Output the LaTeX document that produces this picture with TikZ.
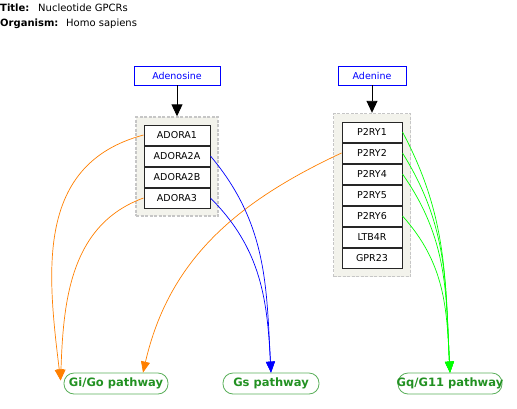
\documentclass[tikz,border=0pt]{standalone}
\usepackage{fontspec}
\setmainfont{DejaVu Sans}
\usetikzlibrary{positioning, fit, backgrounds, arrows.meta, calc}
\definecolor{edgeorange}{RGB}{255,127,0}
\definecolor{edgegreen}{RGB}{0,255,0}
\definecolor{pathgreen}{RGB}{34,145,34}
\definecolor{pathborder}{RGB}{90,175,90}
\definecolor{groupfill}{RGB}{243,243,236}
\tikzset{
  infotext/.style={anchor=base west, inner sep=0pt, font=\fontsize{10}{12}\selectfont}
}
\tikzset{
  genebox/.style={draw=black!85, line width=1pt, fill=white, minimum height=20pt,
    inner sep=0pt, font=\fontsize{9.5}{11}\selectfont},
  ligand/.style={draw=blue, text=blue, line width=0.8pt, minimum height=19pt,
    inner sep=0pt, font=\fontsize{9.5}{11}\selectfont},
  groupbox/.style={draw=gray!45, dash pattern=on 3pt off 1.5pt, line width=1.4pt, fill=groupfill},
  pathway/.style={draw=pathborder, line width=0.8pt, rounded corners=10pt,
    minimum height=21pt, inner sep=0pt, text=pathgreen,
    font=\fontsize{11.5}{13}\selectfont\bfseries},
  bind/.style={line width=0.9pt, -{Triangle[length=12pt,width=11pt]}},
  link/.style={line width=0.7pt, -{Triangle[length=11pt,width=9pt]}}
}

\begin{document}
\begin{tikzpicture}[x=1pt, y=-1pt]
  \useasboundingbox (0,0) rectangle (517,408);
  % header
  \node[infotext, font=\fontsize{10}{12}\selectfont\bfseries] (titlelbl) at (0,11) {Title:};
  \node[infotext] (titleval) at (38,11) {Nucleotide GPCRs};
  \node[infotext, font=\fontsize{10}{12}\selectfont\bfseries] (orglbl) at (0,26) {Organism:};
  \node[infotext] (orgval) at (66,26) {Homo sapiens};

  % ligands
  \node[ligand, minimum width=86pt] (adenosine) at (177,75.5) {Adenosine};
  \node[ligand, minimum width=68pt] (adenine) at (372,75.5) {Adenine};

  % adenosine receptors
  \node[genebox, minimum width=66pt] (adora1) at (177,135) {ADORA1};
  \node[genebox, minimum width=66pt, below=0pt of adora1] (adora2a) {ADORA2A};
  \node[genebox, minimum width=66pt, below=0pt of adora2a] (adora2b) {ADORA2B};
  \node[genebox, minimum width=66pt, below=0pt of adora2b] (adora3) {ADORA3};

  % P2Y receptors
  \node[genebox, minimum width=60pt] (p2ry1) at (372,132) {P2RY1};
  \node[genebox, minimum width=60pt, below=0pt of p2ry1] (p2ry2) {P2RY2};
  \node[genebox, minimum width=60pt, below=0pt of p2ry2] (p2ry4) {P2RY4};
  \node[genebox, minimum width=60pt, below=0pt of p2ry4] (p2ry5) {P2RY5};
  \node[genebox, minimum width=60pt, below=0pt of p2ry5] (p2ry6) {P2RY6};
  \node[genebox, minimum width=60pt, below=0pt of p2ry6] (ltb4r) {LTB4R};
  \node[genebox, minimum width=60pt, below=0pt of ltb4r] (gpr23) {GPR23};

  \begin{scope}[on background layer]
    \node[groupbox, fit=(adora1)(adora3), inner sep=7.5pt] (adogrp) {};
    \node[groupbox, fit=(p2ry1)(gpr23), inner sep=8pt] (p2rygrp) {};
  \end{scope}

  % pathways (text may run past the pill, as in the source)
  \node[pathway, minimum width=104pt] (gigo) at (116,383.5) {\makebox[0pt]{Gi/Go pathway}};
  \node[pathway, minimum width=96pt] (gs) at (271,383.5) {\makebox[0pt]{Gs pathway}};
  \node[pathway, minimum width=104pt] (gq) at (450,383.5) {\makebox[0pt]{Gq/G11 pathway}};

  \draw[bind] (adenosine) -- (adogrp);
  \draw[bind] (adenine) -- (p2rygrp);

  \draw[link, edgeorange] (adora1.west) to[out=195, in=97, looseness=1.1] ($(gigo.west)+(-3,-3)$);
  \draw[link, edgeorange] (adora3.west) to[out=200, in=88] ($(gigo.west)+(-3,-3)$);
  \draw[link, edgeorange] (p2ry2.west) to[out=205, in=77] ($(gigo.north)+(27,0)$);

  \draw[link, blue] (adora2a.east) to[out=-50, in=93] (gs.north);
  \draw[link, blue] (adora3.east) to[out=-45, in=93] (gs.north);

  \draw[link, edgegreen] (p2ry1.east) to[out=-62, in=93] (gq.north);
  \draw[link, edgegreen] (p2ry2.east) to[out=-58, in=93] (gq.north);
  \draw[link, edgegreen] (p2ry4.east) to[out=-55, in=93] (gq.north);
  \draw[link, edgegreen] (p2ry6.east) to[out=-48, in=93] (gq.north);
\end{tikzpicture}
\end{document}
